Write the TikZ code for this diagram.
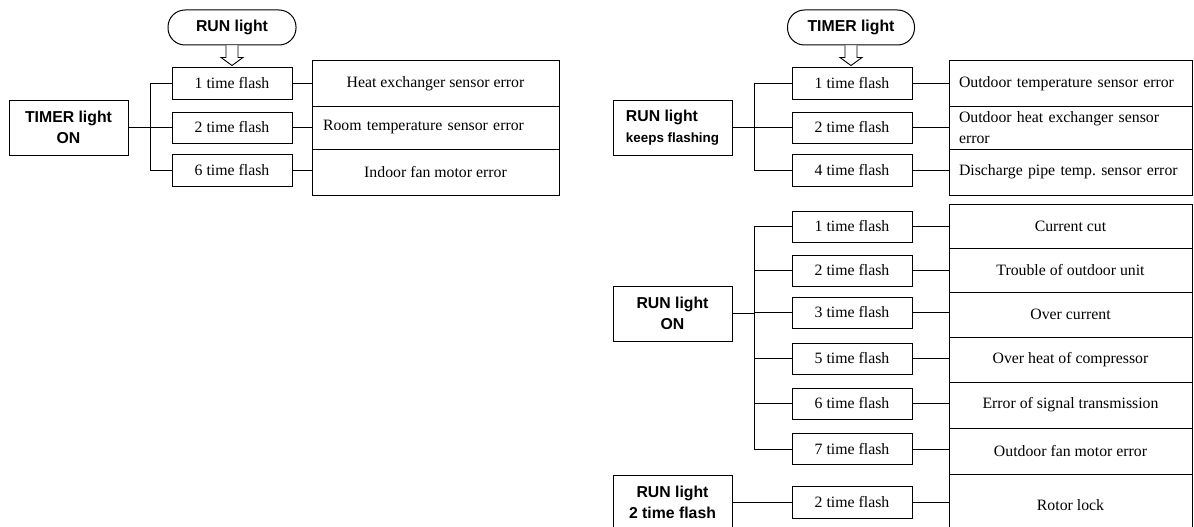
\documentclass[tikz,border=0pt]{standalone}
\usepackage{fontspec}
\setmainfont{Liberation Serif}
\setsansfont{Liberation Sans}

\begin{document}
\begin{tikzpicture}[x=1pt,y=-1pt,line width=1pt,
  pill/.style={draw,rounded corners=17pt,minimum width=128pt,minimum height=35pt,inner sep=0pt,
    font=\sffamily\bfseries\fontsize{15.8}{19}\selectfont},
  lightbox/.style={draw,minimum width=119pt,minimum height=55pt,inner sep=0pt,align=center,
    font=\sffamily\bfseries\fontsize{15.8}{21}\selectfont},
  flash/.style={draw,minimum width=120pt,minimum height=31pt,inner sep=0pt,
    font=\fontsize{15.8}{19}\selectfont},
  ccell/.style={draw,minimum width=247pt,inner sep=0pt,font=\fontsize{15.8}{19}\selectfont},
  lcell/.style={draw,text width=225pt,inner xsep=11pt,inner ysep=0pt,align=left,
    font=\fontsize{15.8}{21}\selectfont},
  rcell/.style={draw,text width=223pt,inner xsep=10pt,inner ysep=0pt,align=left,
    font=\fontsize{15.8}{21}\selectfont},
  hollow/.style={draw,fill=white,line width=0.9pt,line join=miter}]
\useasboundingbox (0,0) rectangle (1194,527);
\clip (0,0) rectangle (1194,527);

% TIMER light ON
\node[pill] (runpill) at (232,27.5) {RUN light};
\draw[hollow] ([xshift=-6pt]runpill.south) -- ++(0,12) -- ++(-5,0) -- ++(11,8) -- ++(11,-8) -- ++(-5,0) -- ++(0,-12);
\node[lightbox] (timeron) at (68.5,127.5) {TIMER light\\ON};
\node[flash] (a1) at (232,83.5) {1 time flash};
\node[flash] (a2) at (232,127.5) {2 time flash};
\node[flash,minimum height=32pt] (a3) at (232,170) {6 time flash};
\node[ccell,minimum height=45pt] (ea1) at (435.5,83.5) {Heat exchanger sensor error};
\node[lcell,minimum height=43pt] (ea2) at (435.5,127.5) {Room temperature sensor error};
\node[ccell,minimum height=46pt] (ea3) at (435.5,172) {Indoor fan motor error};
\coordinate (busa) at (150,0);
\draw (a1.west) -- (a1.west -| busa) -- (a3.west -| busa) -- (a3.west);
\draw (timeron) -- (a2);
\foreach \i in {1,2,3}
  \draw (a\i.east) -- (a\i.east -| ea\i.west);

% RUN light keeps flashing
\node[pill,minimum width=127pt] (timerpill) at (851,27.5) {TIMER light};
\draw[hollow] ([xshift=-6pt]timerpill.south) -- ++(0,12) -- ++(-5,0) -- ++(11,8) -- ++(11,-8) -- ++(-5,0) -- ++(0,-12);
\node[lightbox,align=left] (keeps) at (672.5,127.5) {RUN light\\{\fontsize{13.4}{21}\selectfont keeps flashing}};
\node[flash] (b1) at (852,83.5) {1 time flash};
\node[flash] (b2) at (852,127.5) {2 time flash};
\node[flash,minimum height=32pt] (b3) at (852,170) {4 time flash};
\node[rcell,minimum height=45pt] (eb1) at (1070.5,83.5) {Outdoor temperature sensor error};
\node[rcell,minimum height=43pt] (eb2) at (1070.5,127.5) {Outdoor heat exchanger sensor\\error};
\node[rcell,minimum height=46pt] (eb3) at (1070.5,172) {Discharge pipe temp.\ sensor error};
\coordinate (busb) at (754,0);
\draw (b1.west) -- (b1.west -| busb) -- (b3.west -| busb) -- (b3.west);
\draw (keeps) -- (b2);
\foreach \i in {1,2,3}
  \draw (b\i.east) -- (b\i.east -| eb\i.west);

% RUN light ON
\node[lightbox] (runon) at (672.5,313.5) {RUN light\\ON};
\foreach \i/\n/\y in {1/1/226.5,2/2/270.5,3/3/312.5,4/5/358.5,5/6/403.5,6/7/449}
  \node[flash] (c\i) at (852,\y) {\n{} time flash};
\node[ccell,minimum width=243pt,minimum height=44pt] (ec1) at (1070.5,226) {Current cut};
\node[ccell,minimum width=243pt,minimum height=44pt] (ec2) at (1070.5,270) {Trouble of outdoor unit};
\node[ccell,minimum width=243pt,minimum height=45pt] (ec3) at (1070.5,314.5) {Over current};
\node[ccell,minimum width=243pt,minimum height=45pt] (ec4) at (1070.5,359.5) {Over heat of compressor};
\node[ccell,minimum width=243pt,minimum height=46pt] (ec5) at (1070.5,405) {Error of signal transmission};
\node[ccell,minimum width=243pt,minimum height=46pt] (ec6) at (1070.5,451) {Outdoor fan motor error};
\coordinate (busc) at (754,0);
\draw (c1.west) -- (c1.west -| busc) -- (c6.west -| busc) -- (c6.west);
\draw (runon.east) -- (runon.east -| busc);
\foreach \i in {2,...,5}
  \draw (c\i.west) -- (c\i.west -| busc);
\foreach \i in {1,...,6}
  \draw (c\i.east) -- (c\i.east -| ec\i.west);

% RUN light 2 time flash
\node[lightbox] (run2) at (672.5,502.5) {RUN light\\2 time flash};
\node[flash,minimum height=32pt] (d1) at (852,502) {2 time flash};
\node[ccell,minimum width=243pt,minimum height=62pt] (ed1) at (1070.5,505) {Rotor lock};
\draw (run2.east |- d1.west) -- (d1.west);
\draw (d1.east) -- (d1.east -| ed1.west);
\end{tikzpicture}
\end{document}
